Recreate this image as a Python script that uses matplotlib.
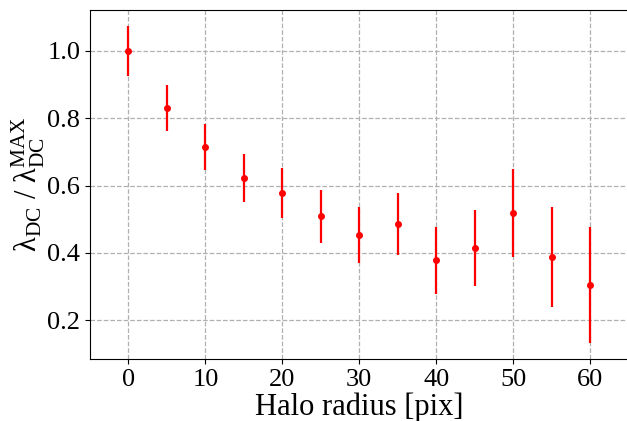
import numpy as np
import matplotlib
matplotlib.use("Agg")
import matplotlib.pyplot as plt

plt.rcParams['font.family'] = ['Liberation Serif', 'DejaVu Serif']
plt.rcParams['mathtext.fontset'] = 'custom'
plt.rcParams['mathtext.rm'] = 'Liberation Serif'
plt.rcParams['mathtext.it'] = 'Liberation Serif:italic'
plt.rcParams['mathtext.bf'] = 'Liberation Serif:bold'

radio = [0, 5, 10, 15, 20, 25, 30, 35, 40, 45, 50, 55, 60]
lambda_rel = [1.0, 0.831, 0.715, 0.623, 0.579, 0.509, 0.454, 0.485, 0.378, 0.415, 0.518, 0.389, 0.305]
error = [0.074, 0.069, 0.069, 0.071, 0.074, 0.078, 0.084, 0.092, 0.100, 0.112, 0.130, 0.148, 0.173]

fig = plt.figure(figsize=(6.27, 4.21), dpi=100)
ax = fig.add_axes([0.1435, 0.147, 0.859, 0.829])
ax.errorbar(radio, lambda_rel, yerr=error, fmt='o', color='red', markersize=4, elinewidth=1.6)
ax.grid(True, linestyle='--', color='#b0b0b0', linewidth=0.9)
ax.set_axisbelow(True)
ax.set_xlim(-5, 65)
ax.set_xticks([0, 10, 20, 30, 40, 50, 60])
ax.set_yticks([0.2, 0.4, 0.6, 0.8, 1.0])
ax.tick_params(labelsize=19)
ax.set_xlabel("Halo radius [pix]", fontsize=22, labelpad=1)
ax.set_ylabel(r"$\mathrm{\lambda_{DC}}$ / $\mathrm{\lambda_{DC}^{MAX}}$", fontsize=22, labelpad=0)
fig.savefig("out.png", dpi=100)
